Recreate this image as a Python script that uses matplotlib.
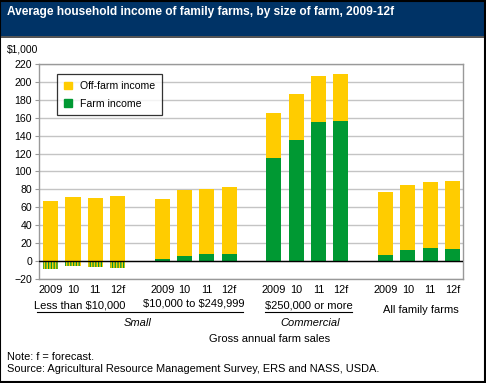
import matplotlib
matplotlib.use("Agg")
import matplotlib.pyplot as plt
import numpy as np
from matplotlib.patches import Patch, Rectangle
from matplotlib.lines import Line2D

plt.rcParams["font.family"] = ["Liberation Sans", "DejaVu Sans"]
plt.rcParams["hatch.linewidth"] = 0.9

# ── data ($1,000) ───────────────────────────────────────────────────────────
years = ["2009", "10", "11", "12f"]
groups = [r"Less than \$10,000", r"\$10,000 to \$249,999", r"\$250,000 or more", "All family farms"]
farm_income = [-8.5, -5.0, -6.2, -7.3,
               2.5, 5.9, 8.1, 8.1,
               115.2, 135.2, 155.3, 156.4,
               7.0, 12.6, 14.8, 13.7]
off_farm_income = [67.2, 71.7, 70.6, 72.8,
                   66.9, 73.9, 72.5, 74.7,
                   50.1, 51.3, 51.3, 52.5,
                   70.3, 72.5, 73.6, 75.7]

YELLOW = "#FFCC00"
GREEN = "#009933"
W, H = 486, 383

def fx(px):
    return px / W

def fy(py):
    return 1 - py / H

fig = plt.figure(figsize=(W / 100, H / 100), dpi=100)
fig.patch.set_facecolor("white")

# title bar
fig.patches.append(Rectangle((0, fy(36)), 1, 1 - fy(36), transform=fig.transFigure,
                             facecolor="#003366", edgecolor="none", zorder=0))
fig.add_artist(Line2D([0, 1], [fy(36.5), fy(36.5)], color="#333333", lw=1.2))
fig.text(fx(7), fy(12), "Average household income of family farms, by size of farm, 2009-12f",
         color="white", fontsize=8.6, fontweight="bold", ha="left", va="center")
fig.text(fx(7), fy(49), r"\$1,000", fontsize=7.4, ha="left", va="center")

# ── chart ──────────────────────────────────────────────────────────────────
ax = fig.add_axes([fx(39), fy(279), fx(463) - fx(39), fy(64) - fy(279)])
slots = np.array([g * 5 + i for g in range(4) for i in range(4)], dtype=float)
farm = np.array(farm_income)
off = np.array(off_farm_income)
bw = 0.68

pos = farm >= 0
ax.bar(slots[pos], farm[pos], bw, color=GREEN, zorder=3, linewidth=0)
ax.bar(slots[pos], off[pos], bw, bottom=farm[pos], color=YELLOW, zorder=3, linewidth=0)
ax.bar(slots[~pos], off[~pos], bw, color=YELLOW, zorder=3, linewidth=0)
ax.bar(slots[~pos], farm[~pos], bw, facecolor=YELLOW, edgecolor=GREEN, hatch="|" * 6,
       linewidth=0, zorder=3)

ax.set_xlim(-0.52, 18.47)
ax.set_ylim(-20, 220)
ax.set_yticks(np.arange(-20, 221, 20))
ax.yaxis.grid(True, color="#C4C4C4", lw=1.0, zorder=0)
ax.axhline(0, color="black", lw=1.0, zorder=4)
ax.set_xticks(slots)
ax.set_xticklabels(years * 4)
ax.tick_params(axis="x", length=0, pad=4, labelsize=7.9)
ax.tick_params(axis="y", length=3, width=0.8, color="#999999", pad=2, labelsize=7.6)
for s in ax.spines.values():
    s.set_color("#999999")
    s.set_linewidth(1.0)

leg = ax.legend(handles=[Patch(color=YELLOW, label="Off-farm income"),
                         Patch(color=GREEN, label="Farm income")],
                loc="upper left", bbox_to_anchor=(0.0425, 0.952), fancybox=False,
                edgecolor="black", fontsize=7.6, handlelength=0.75, handleheight=0.75,
                handletextpad=0.8, borderpad=0.65, labelspacing=0.7, borderaxespad=0)
leg.get_frame().set_linewidth(0.9)

# ── group labels ───────────────────────────────────────────────────────────
fs = 8
fig.text(fx(80), fy(305), groups[0], fontsize=fs, ha="center", va="center")
fig.text(fx(194), fy(304), groups[1], fontsize=fs, ha="center", va="center")
fig.text(fx(308.5), fy(305), groups[2], fontsize=fs, ha="center", va="center")
fig.text(fx(421), fy(310), groups[3], fontsize=fs, ha="center", va="center")
fig.add_artist(Line2D([fx(37), fx(243)], [fy(312), fy(312)], color="black", lw=0.8))
fig.add_artist(Line2D([fx(265), fx(352)], [fy(312), fy(312)], color="black", lw=0.8))
fig.text(fx(138), fy(323), "Small", fontsize=fs, style="italic", ha="center", va="center")
fig.text(fx(310), fy(323), "Commercial", fontsize=fs, style="italic", ha="center", va="center")
fig.text(fx(270), fy(339), "Gross annual farm sales", fontsize=fs, ha="center", va="center")

fig.text(fx(7), fy(357), "Note: f = forecast.", fontsize=7.9, ha="left", va="center")
fig.text(fx(7), fy(369), "Source: Agricultural Resource Management Survey, ERS and NASS, USDA.",
         fontsize=7.9, ha="left", va="center")

# outer border
fig.patches.append(Rectangle((0.001, 0.0015), 0.997, 0.997, transform=fig.transFigure,
                             facecolor="none", edgecolor="black", lw=1.5, zorder=10))

fig.savefig("out.png", dpi=100)
